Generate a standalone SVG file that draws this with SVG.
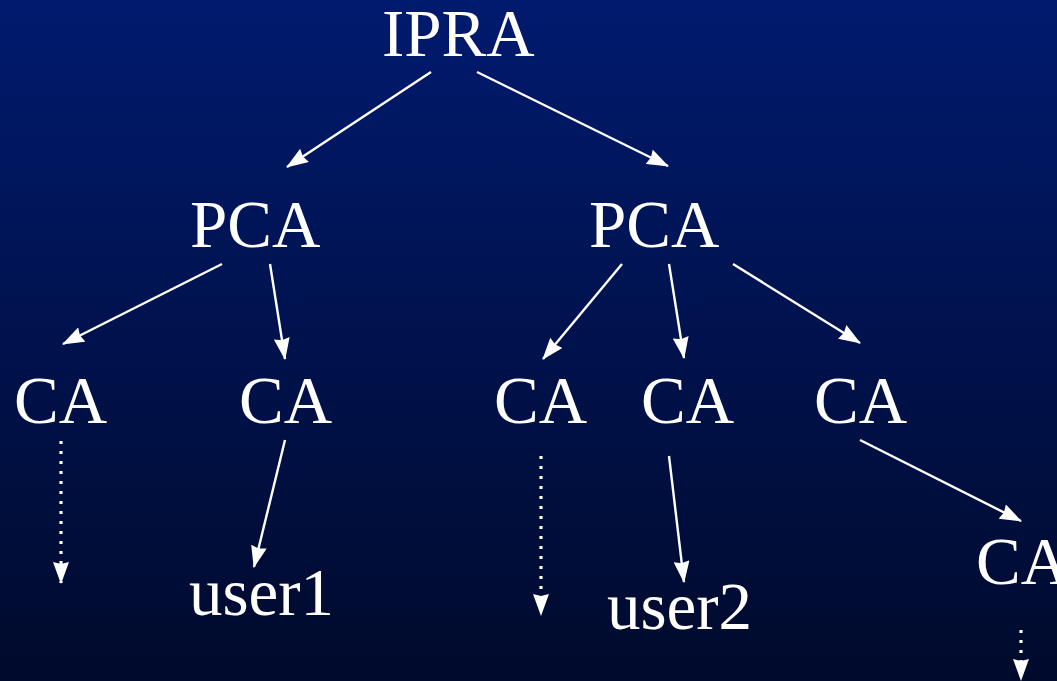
<svg xmlns="http://www.w3.org/2000/svg" width="1057" height="681" viewBox="0 0 1057 681">
  <defs>
    <linearGradient id="bg" x1="0" y1="0" x2="0" y2="1">
      <stop offset="0" stop-color="#001a6e"/>
      <stop offset="1" stop-color="#000a2c"/>
    </linearGradient>
    <marker id="arrow" viewBox="0 0 22 16" refX="21" refY="8" markerWidth="22" markerHeight="16" markerUnits="userSpaceOnUse" orient="auto">
      <path d="M0,0 L22,8 L0,16 L2,8 Z" fill="#ffffff"/>
    </marker>
    <style>
      .lbl { font-family: "Liberation Serif", "Times New Roman", serif; font-size: 67px; fill: #ffffff; }
      .edge { stroke: #ffffff; stroke-width: 2.4; fill: none; marker-end: url(#arrow); }
      .dotted { stroke: #ffffff; stroke-width: 3.2; stroke-dasharray: 3 7; fill: none; marker-end: url(#arrow); }
    </style>
  </defs>

  <rect x="0" y="0" width="1057" height="681" fill="url(#bg)"/>

  <g id="connectors">
    <line class="edge" x1="431" y1="72" x2="287" y2="167"/>
    <line class="edge" x1="477" y1="72" x2="668" y2="166"/>
    <line class="edge" x1="222" y1="264" x2="63" y2="344"/>
    <line class="edge" x1="270" y1="264" x2="285" y2="359"/>
    <line class="edge" x1="622" y1="264" x2="543" y2="359"/>
    <line class="edge" x1="669" y1="264" x2="684" y2="358"/>
    <line class="edge" x1="733" y1="264" x2="860" y2="343"/>
    <line class="edge" x1="285" y1="440" x2="254" y2="567"/>
    <line class="edge" x1="669" y1="456" x2="684" y2="582"/>
    <line class="edge" x1="860" y1="440" x2="1021" y2="521"/>
    <line class="dotted" x1="61" y1="441" x2="61" y2="583"/>
    <line class="dotted" x1="541" y1="456" x2="541" y2="615"/>
    <line class="dotted" x1="1021" y1="630" x2="1021" y2="680"/>
  </g>

  <g id="ipra"><text class="lbl" x="382" y="56">IPRA</text></g>
  <g id="pca-left"><text class="lbl" x="190" y="247">PCA</text></g>
  <g id="pca-right"><text class="lbl" x="589" y="247">PCA</text></g>
  <g id="ca-1"><text class="lbl" x="14" y="423">CA</text></g>
  <g id="ca-2"><text class="lbl" x="239" y="423">CA</text></g>
  <g id="ca-3"><text class="lbl" x="494" y="423">CA</text></g>
  <g id="ca-4"><text class="lbl" x="641" y="423">CA</text></g>
  <g id="ca-5"><text class="lbl" x="814" y="423">CA</text></g>
  <g id="ca-6"><text class="lbl" x="976" y="584">CA</text></g>
  <g id="user1"><text class="lbl" x="189" y="615">user1</text></g>
  <g id="user2"><text class="lbl" x="607" y="629">user2</text></g>
</svg>
